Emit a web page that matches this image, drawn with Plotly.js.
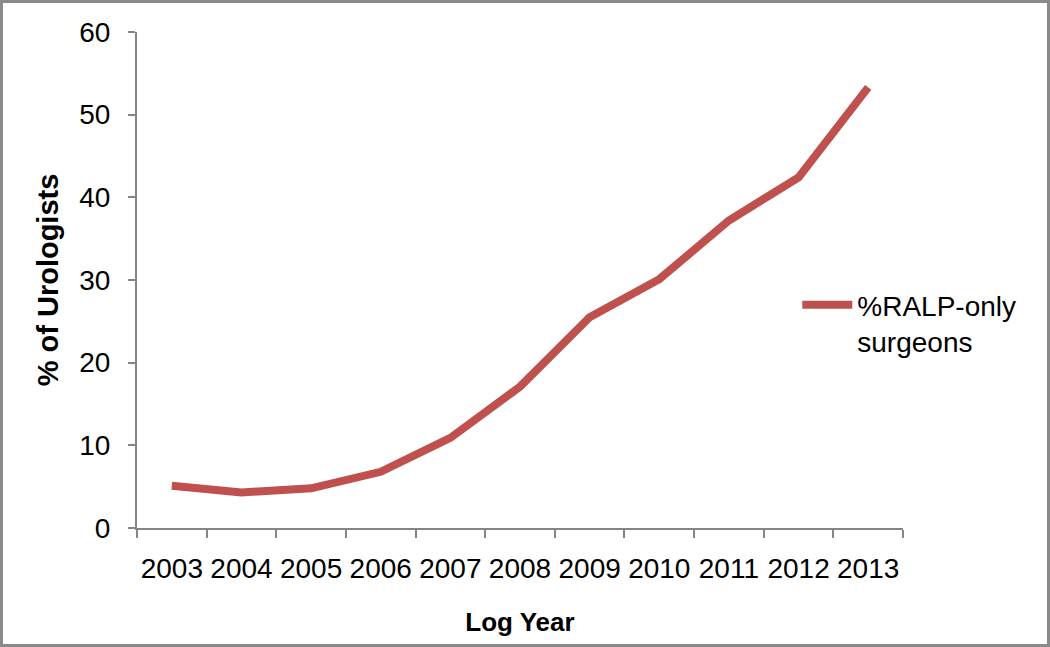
<!DOCTYPE html>
<html>
<head>
<meta charset="utf-8">
<script src="https://cdn.plot.ly/plotly-3.0.1.min.js"></script>
<style>
  body { margin: 0; background: #fff; }
  #frame { width: 1050px; height: 647px; box-sizing: border-box; border: 3px solid #8a8a8a; }
  #line-plot { width: 1044px; height: 641px; }
</style>
</head>
<body>
<div id="frame"><div id="line-plot"></div></div>
<script>
// years on the x axis and share of urologists doing RALP only
var years = ["2003", "2004", "2005", "2006", "2007", "2008", "2009", "2010", "2011", "2012", "2013"];
var ralpOnly = [5.1, 4.3, 4.8, 6.8, 10.9, 17.1, 25.5, 30.1, 37.2, 42.4, 53.3];
var yTicks = [0, 10, 20, 30, 40, 50, 60];

var axisGray = "#868686";

var trace = {
  x: years,
  y: ralpOnly,
  name: "%RALP-only<br>surgeons",
  mode: "lines",
  type: "scatter",
  line: {color: "#C0504D", width: 8}
};

var data = [trace];

var layout = {
  width: 1044,
  height: 641,
  margin: {l: 134, r: 144, t: 29, b: 116},
  paper_bgcolor: "#fff",
  plot_bgcolor: "#fff",
  font: {family: "Liberation Sans, Arial, sans-serif", size: 28, color: "#000"},
  showlegend: true,
  legend: {
    x: 0.862, y: 0.5, xanchor: "left", yanchor: "top",
    valign: "top",
    itemwidth: 50,
    font: {size: 28},
    bgcolor: "rgba(0,0,0,0)"
  },
  xaxis: {
    type: "category",
    range: [-0.5, 10.5],
    tickangle: 0,
    title: {text: "<b>Log Year</b>", font: {size: 26}, standoff: 30},
    showline: true, linecolor: axisGray, linewidth: 2,
    ticks: "outside", tickson: "boundaries", ticklen: 8, tickcolor: axisGray, tickwidth: 2,
    ticklabelstandoff: 14,
    showgrid: false, zeroline: false
  },
  yaxis: {
    range: [0, 60],
    tickvals: yTicks,
    title: {text: "<b>% of Urologists</b>", font: {size: 29}, standoff: 12},
    showline: true, linecolor: axisGray, linewidth: 2,
    ticks: "outside", ticklen: 7, tickcolor: axisGray, tickwidth: 2,
    ticklabelstandoff: 12,
    showgrid: false, zeroline: false
  }
};

Plotly.newPlot("line-plot", data, layout, {displayModeBar: false});
</script>
</body>
</html>
